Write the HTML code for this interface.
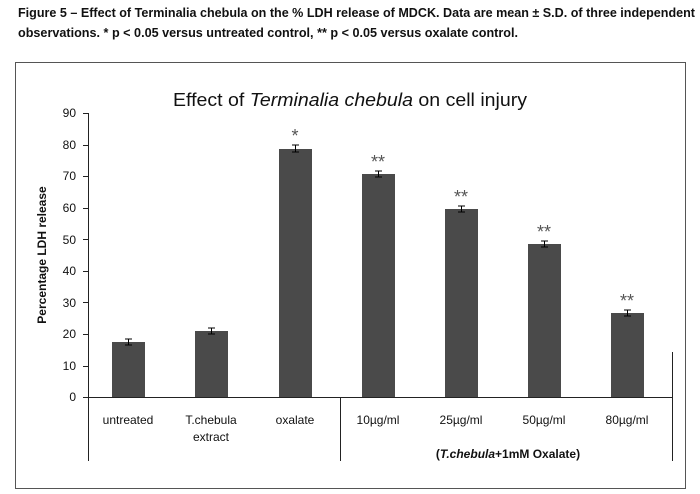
<!DOCTYPE html>
<html><head><meta charset="utf-8"><style>body{margin:0;background:#fff}svg{display:block}</style></head><body>
<svg width="700" height="494" xmlns="http://www.w3.org/2000/svg" font-family="Liberation Sans, sans-serif">
<text x="18" y="17" font-size="13" font-weight="bold" textLength="677" lengthAdjust="spacingAndGlyphs" fill="#111">Figure 5 – Effect of Terminalia chebula on the % LDH release of MDCK. Data are mean ± S.D. of three  independent</text>
<text x="18" y="37" font-size="13" font-weight="bold" textLength="500" lengthAdjust="spacingAndGlyphs" fill="#111">observations. * p &lt; 0.05 versus untreated control, ** p &lt; 0.05 versus oxalate control.</text>
<rect x="15.5" y="62.5" width="670" height="426" fill="#fff" stroke="#555" stroke-width="1"/>
<text x="173" y="106" font-size="18" textLength="354" lengthAdjust="spacingAndGlyphs" fill="#111">Effect of <tspan font-style="italic">Terminalia chebula</tspan> on cell injury</text>
<g font-size="12" text-anchor="end" fill="#111">
<text x="76" y="401">0</text><text x="76" y="370">10</text><text x="76" y="338">20</text><text x="76" y="307">30</text><text x="76" y="275">40</text><text x="76" y="244">50</text><text x="76" y="212">60</text><text x="76" y="180">70</text><text x="76" y="149">80</text><text x="76" y="117">90</text>
</g>
<g stroke="#222" stroke-width="1">
<line x1="88.5" y1="113" x2="88.5" y2="461"/>
<line x1="88" y1="397.5" x2="672" y2="397.5"/>
<line x1="340.5" y1="397" x2="340.5" y2="461"/>
<line x1="672.5" y1="352" x2="672.5" y2="461"/>
<line x1="83" y1="113.5" x2="88" y2="113.5"/><line x1="83" y1="145.5" x2="88" y2="145.5"/><line x1="83" y1="176.5" x2="88" y2="176.5"/><line x1="83" y1="208.5" x2="88" y2="208.5"/><line x1="83" y1="239.5" x2="88" y2="239.5"/><line x1="83" y1="271.5" x2="88" y2="271.5"/><line x1="83" y1="302.5" x2="88" y2="302.5"/><line x1="83" y1="334.5" x2="88" y2="334.5"/><line x1="83" y1="366.5" x2="88" y2="366.5"/><line x1="83" y1="397.5" x2="88" y2="397.5"/>
</g>
<text transform="translate(46 255) rotate(-90)" font-size="12" font-weight="bold" text-anchor="middle" fill="#111">Percentage LDH release</text>
<g fill="#4a4a4a">
<rect x="112" y="342" width="33" height="55"/>
<rect x="195" y="331" width="33" height="66"/>
<rect x="279" y="149" width="33" height="248"/>
<rect x="362" y="174" width="33" height="223"/>
<rect x="445" y="209" width="33" height="188"/>
<rect x="528" y="244" width="33" height="153"/>
<rect x="611" y="313" width="33" height="84"/>
</g>
<g stroke="#000" stroke-width="1">
<path d="M125 339h7M128.5 339v6M125 345h7"/>
<path d="M208 328h7M211.5 328v6M208 334h7"/>
<path d="M292 145h7M295.5 145v7M292 152h7"/>
<path d="M375 171h7M378.5 171v6M375 177h7"/>
<path d="M458 206h7M461.5 206v6M458 212h7"/>
<path d="M541 241h7M544.5 241v6M541 247h7"/>
<path d="M624 310h7M627.5 310v6M624 316h7"/>
</g>
<g font-size="18" text-anchor="middle" fill="#555">
<text x="295" y="142">*</text><text x="378" y="168">**</text><text x="461" y="203">**</text><text x="544" y="238">**</text><text x="627" y="307">**</text>
</g>
<g font-size="12" text-anchor="middle" fill="#111">
<text x="128" y="424">untreated</text><text x="211" y="424">T.chebula</text><text x="211" y="441">extract</text><text x="295" y="424">oxalate</text>
<text x="378" y="424">10µg/ml</text><text x="461" y="424">25µg/ml</text><text x="544" y="424">50µg/ml</text><text x="627" y="424">80µg/ml</text>
<text x="508" y="458" font-weight="bold">(<tspan font-style="italic">T.chebula</tspan>+1mM Oxalate)</text>
</g>
</svg>
</body></html>
